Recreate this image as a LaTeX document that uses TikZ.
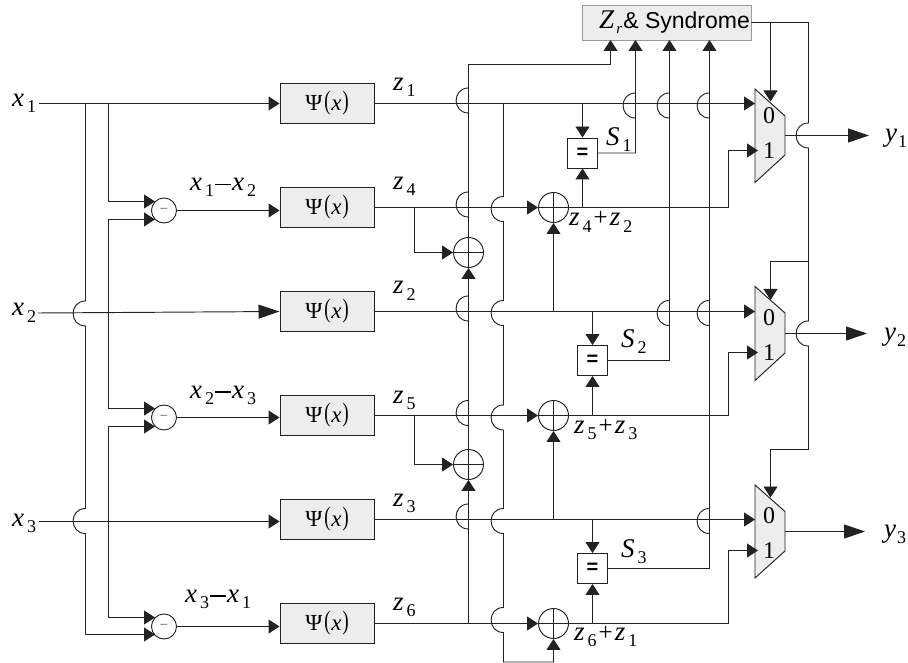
\documentclass[tikz,border=0pt]{standalone}
\usepackage{fontspec}
\setmainfont{Liberation Serif}
\newfontfamily\arfont{Liberation Sans}
\usetikzlibrary{arrows.meta}
\definecolor{boxgray}{HTML}{EDEDED}
\definecolor{linecol}{HTML}{222222}
\newcommand\subsz{\fontsize{18}{18}\selectfont}
\newcommand\varsz{\fontsize{27}{27}\selectfont}
\newcommand\vs[2]{{\itshape #1}\hspace{3pt}\raisebox{-6pt}{\subsz #2}}
\newcommand\vy[1]{{\itshape y}\hspace{1pt}\raisebox{-6pt}{\subsz #1}}
\newcommand\hop[2]{-- (#1,#2-12.5) .. controls (#1-16.5,#2-12.5) and (#1-16.5,#2+12.5) .. (#1,#2+12.5)}
\newcommand\thickminus{\hspace{1pt}\raisebox{5.5pt}{\rule{16pt}{1.6pt}}\hspace{1pt}}
\newcommand\thinplus{\hspace{2pt}{\fontsize{25}{25}\selectfont +}\hspace{2pt}}
\newcommand\psitext{{\fontsize{23}{23}\selectfont Ψ\hspace{2pt}\raisebox{0.5pt}{\scalebox{0.8}[1.15]{(}}\hspace{1pt}\textit{x}\hspace{1pt}\raisebox{0.5pt}{\scalebox{0.8}[1.15]{)}}}}
\tikzset{
  wire/.style={draw=linecol,line width=0.95pt},
  arr/.style={wire,-{Triangle[length=11pt,width=14pt]}},
  bigarr/.style={wire,-{Triangle[length=21pt,width=14pt]}},
  psibox/.style={draw=linecol,line width=0.95pt,fill=boxgray,minimum width=94pt,minimum height=39.5pt,inner sep=0pt},
  subc/.style={circle,draw=linecol,line width=0.95pt,fill=white,minimum size=25pt,inner sep=0pt,font=\arfont\fontsize{14}{14}\selectfont\color{gray}},
  xorc/.style={circle,draw=linecol,line width=0.95pt,minimum size=30pt,inner sep=0pt},
  eqbox/.style={draw=linecol,line width=0.95pt,fill=white,minimum size=30pt,inner sep=0pt,font=\arfont\bfseries\fontsize{20}{20}\selectfont},
  muxs/.style={draw=linecol,line width=0.95pt,fill=boxgray},
  lab/.style={anchor=base west,inner sep=0pt,font=\varsz},
  muxlab/.style={inner sep=0pt,font=\fontsize{24}{24}\selectfont},
}
\begin{document}
\begin{tikzpicture}[x=1pt,y=-1pt]
\useasboundingbox (0,0) rectangle (908,663);
% blocks
\node[psibox] (psi1) at (327,103.5) {\psitext};
\node[psibox] (psi2) at (327,207.5) {\psitext};
\node[psibox] (psi3) at (327,311.5) {\psitext};
\node[psibox] (psi4) at (327,415.5) {\psitext};
\node[psibox] (psi5) at (327,519.5) {\psitext};
\node[psibox] (psi6) at (327,623.5) {\psitext};
\node[subc] (sa) at (164,210.5) {−};
\node[subc] (sb) at (164,417.5) {−};
\node[subc] (sc) at (164,626.5) {−};
\node[xorc] (xa) at (468.5,252.5) {};
\node[xorc] (xb) at (468.5,464.5) {};
\node[xorc] (xc) at (553.5,207.5) {};
\node[xorc] (xd) at (553.5,415.5) {};
\node[xorc] (xe) at (553.5,623.5) {};
\node[eqbox] (eqa) at (582.5,153) {=};
\node[eqbox] (eqb) at (592.5,360.5) {=};
\node[eqbox] (eqc) at (592.5,568.5) {=};
\node[draw=gray!80,line width=0.95pt,fill=boxgray,minimum width=169pt,minimum height=35pt,inner sep=0pt] (zs) at (666.5,22.5) {};
% multiplexers
\draw[muxs] (755,89) coordinate (ma) -- (785,116) -- (785,155) -- (755,182.5) -- cycle;
\draw[muxs] (755,286.5) coordinate (mb) -- (785,313) -- (785,353) -- (755,380.5) -- cycle;
\draw[muxs] (755,485) coordinate (mc) -- (785,511.5) -- (785,551) -- (755,578) -- cycle;
\coordinate (ma0) at (755,103.5); \coordinate (ma1) at (758,150.5); \coordinate (mao) at (785,135.5);
\coordinate (mb0) at (755,311.5); \coordinate (mb1) at (758,352.5); \coordinate (mbo) at (785,333.5);
\coordinate (mc0) at (755,519.5); \coordinate (mc1) at (758,550.5); \coordinate (mco) at (785,531.5);
\coordinate (ina) at (39,103.5); \coordinate (inb) at (38,313); \coordinate (inc) at (39,521.5);
\coordinate (oa) at (869,135.5); \coordinate (ob) at (867,333.5); \coordinate (oc) at (865,531.5);
% inputs
\draw[arr] (ina) -- (psi1.west);
\draw[bigarr] (inb) -- (psi3.west);
\draw[arr] (inc) -- (inc -| psi5.west);
\draw[arr] (sa.east) -- (sa.east -| psi2.west);
\draw[arr] (sb.east) -- (sb.east -| psi4.west);
\draw[arr] (sc.east) -- (sc.east -| psi6.west);
\draw[arr] (85.5,103.5) \hop{85.5}{313.5} \hop{85.5}{521} -- (85.5,634.5) -- (155,634.5);
\draw[arr] (108.5,103.5) |- (155,201.5);
\draw[arr] (108.5,312.5) |- (155,219.5);
\draw[arr] (108.5,312.5) |- (155,408.5);
\draw[arr] (108.5,521.5) |- (155,426.5);
\draw[arr] (108.5,521.5) |- (155,617.5);
% z lines
\draw[arr] (psi1.east) -- (ma0);
\draw[arr] (psi2.east) -- (xc.west);
\draw[arr] (xc.east) -- (728.5,207.5) |- (ma1);
\draw[arr] (psi3.east) -- (mb0);
\draw[arr] (psi4.east) -- (xd.west);
\draw[arr] (xd.east) -- (728.5,415.5) |- (mb1);
\draw[arr] (psi5.east) -- (mc0);
\draw[arr] (psi6.east) -- (xe.west);
\draw[arr] (xe.east) -- (728.5,623.5) |- (mc1);
% side xors
\draw[arr] (414.5,207.5) |- (xa.west);
\draw[arr] (414.5,415.5) |- (xb.west);
% z6 -> xor -> xor -> Zr
\draw[arr] (468.5,623.5) \hop{468.5}{516.5} -- (xb.south);
\draw[arr] (xb.north) \hop{468.5}{413} \hop{468.5}{308.5} -- (xa.south);
\draw[arr] (xa.north) \hop{468.5}{204.5} \hop{468.5}{100.5} -- (468.5,64.5) -- (610.5,64.5) -- (610.5,40);
% z1 feedback to z6 xor
\draw[arr] (503.5,103.5) \hop{503.5}{209} \hop{503.5}{313} \hop{503.5}{417.5} \hop{503.5}{521} \hop{503.5}{620} -- (503.5,662) -| (xe.south);
% xor inputs from z2, z3
\draw[arr] (553.5,311.5) -- (xc.south);
\draw[arr] (553.5,519.5) -- (xd.south);
% equality
\draw[arr] (582.5,103.5) -- (eqa.north);
\draw[arr] (582.5,207.5) -- (eqa.south);
\draw[arr] (592.5,311.5) -- (eqb.north);
\draw[arr] (592.5,415.5) -- (eqb.south);
\draw[arr] (592.5,519.5) -- (eqc.north);
\draw[arr] (592.5,623.5) -- (eqc.south);
\draw[arr] (eqa.east) -- (635.5,153) \hop{635.5}{105.5} -- (635.5,40);
\draw[arr] (eqb.east) -- (669.5,360.5) \hop{669.5}{313} \hop{669.5}{105.5} -- (669.5,40);
\draw[arr] (eqc.east) -- (709.5,568.5) \hop{709.5}{521} \hop{709.5}{313} \hop{709.5}{105.5} -- (709.5,40);
% outputs
\draw[bigarr] (mao) -- (oa);
\draw[bigarr] (mbo) -- (ob);
\draw[bigarr] (mco) -- (oc);
% control
\draw[wire] (zs.east) -- (808.5,22.5) \hop{808.5}{135.5} \hop{808.5}{333.5} -- (808.5,449.5);
\draw[arr] (770.5,22.5) -- (770.5,101.5);
\draw[arr] (808.5,261.5) -- (770.5,261.5) -- (770.5,300);
\draw[arr] (808.5,449.5) -- (770.5,449.5) -- (770.5,497.5);
% xor bars
\draw[wire] (xa.west) -- (xa.east) (xa.north) -- (xa.south);
\draw[wire] (xb.west) -- (xb.east) (xb.north) -- (xb.south);
\draw[wire] (xc.west) -- (xc.east) (xc.north) -- (xc.south);
\draw[wire] (xd.west) -- (xd.east) (xd.north) -- (xd.south);
\draw[wire] (xe.west) -- (xe.east) (xe.north) -- (xe.south);
% labels
\node[lab] (lx1) at (12,107) {\vs{x}{1}};
\node[lab] (lx2) at (12,316) {\vs{x}{2}};
\node[lab] (lx3) at (12,526) {\vs{x}{3}};
\node[lab] (ld1) at (190,191) {\vs{x}{1}\thickminus\vs{x}{2}};
\node[lab] (ld2) at (190,398) {\vs{x}{2}\thickminus\vs{x}{3}};
\node[lab] (ld3) at (185,602) {\vs{x}{3}\thickminus\vs{x}{1}};
\node[lab] (lz1) at (393,91) {\vs{z}{1}};
\node[lab] (lz4) at (393,190) {\vs{z}{4}};
\node[lab] (lz2) at (393,294) {\vs{z}{2}};
\node[lab] (lz5) at (393,403) {\vs{z}{5}};
\node[lab] (lz3) at (393,506) {\vs{z}{3}};
\node[lab] (lz6) at (393,610) {\vs{z}{6}};
\node[lab] (ls1) at (606,146) {\vs{S}{1}};
\node[lab] (ls2) at (621,347) {\vs{S}{2}};
\node[lab] (ls3) at (621,557) {\vs{S}{3}};
\node[lab] (lp1) at (569,226) {\vs{z}{4}\thinplus\vs{z}{2}};
\node[lab] (lp2) at (574,433) {\vs{z}{5}\thinplus\vs{z}{3}};
\node[lab] (lp3) at (574,640) {\vs{z}{6}\thinplus\vs{z}{1}};
\node[lab] (ly1) at (885,142) {\vy{1}};
\node[lab] (ly2) at (884,340) {\vy{2}};
\node[lab] (ly3) at (884,537) {\vy{3}};
\node[lab] (lzr) at (599,29) {\textit{Z}\hspace{2pt}\raisebox{-5pt}{\fontsize{15}{15}\selectfont\textit{r}}\hspace{1pt}{\arfont\fontsize{23}{23}\selectfont\&~Syndrome}};
\node[muxlab] (a0) at (769,116) {0};
\node[muxlab] (a1) at (769,151) {1};
\node[muxlab] (b0) at (769,318) {0};
\node[muxlab] (b1) at (769,353) {1};
\node[muxlab] (c0) at (769,516) {0};
\node[muxlab] (c1) at (769,551) {1};
\end{tikzpicture}
\end{document}
